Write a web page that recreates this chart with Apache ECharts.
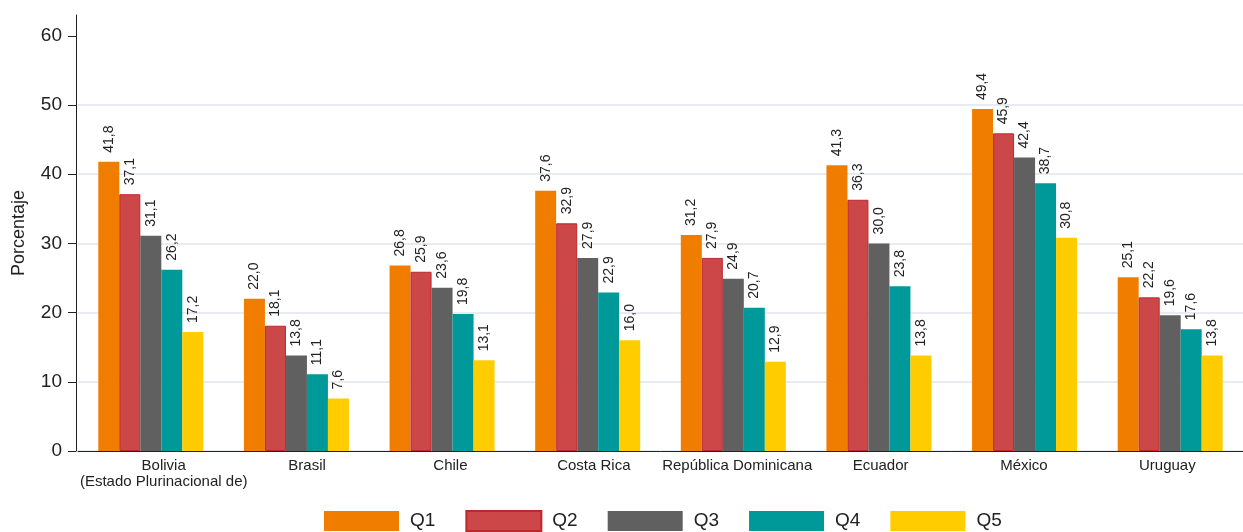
<!DOCTYPE html>
<html>
<head>
<meta charset="utf-8">
<script src="https://cdn.jsdelivr.net/npm/echarts@6/dist/echarts.min.js"></script>
<style>
html,body{margin:0;padding:0;background:#fff;}
#chart{width:1243px;height:532px;}
</style>
</head>
<body>
<div id="chart"></div>
<script>
const categories = ['Bolivia\n(Estado Plurinacional de)', 'Brasil', 'Chile', 'Costa Rica', 'República Dominicana', 'Ecuador', 'México', 'Uruguay'];
const seriesNames = ['Q1', 'Q2', 'Q3', 'Q4', 'Q5'];
const q1 = [41.8, 22.0, 26.8, 37.6, 31.2, 41.3, 49.4, 25.1];
const q2 = [37.1, 18.1, 25.9, 32.9, 27.9, 36.3, 45.9, 22.2];
const q3 = [31.1, 13.8, 23.6, 27.9, 24.9, 30.0, 42.4, 19.6];
const q4 = [26.2, 11.1, 19.8, 22.9, 20.7, 23.8, 38.7, 17.6];
const q5 = [17.2, 7.6, 13.1, 16.0, 12.9, 13.8, 30.8, 13.8];
const yTicks = [0, 10, 20, 30, 40, 50, 60];

const values = [q1, q2, q3, q4, q5];
const colors = ['#F07D00', '#CC4748', '#606060', '#009999', '#FFCC00'];
const borders = [null, '#C0272D', null, null, null];
const FONT = 'Arial, "Liberation Sans", sans-serif';

const chart = echarts.init(document.getElementById('chart'), null, {renderer: 'canvas'});
const series = values.map((v, i) => ({
  name: seriesNames[i],
  type: 'bar',
  data: v,
  barWidth: 21,
  barGap: '0%',
  itemStyle: borders[i] ? {color: colors[i], borderColor: borders[i], borderWidth: 1} : {color: colors[i]},
  label: {
    show: true,
    position: 'top',
    rotate: 90,
    align: 'left',
    verticalAlign: 'middle',
    distance: 9,
    fontSize: 14,
    fontFamily: FONT,
    color: '#222',
    formatter: p => p.value.toFixed(1).replace('.', ',')
  }
}));

chart.setOption({
  backgroundColor: '#fff',
  animation: false,
  textStyle: {fontFamily: FONT},
  legend: {
    data: seriesNames,
    icon: 'rect',
    left: 324,
    top: 510,
    padding: 0,
    itemWidth: 75,
    itemHeight: 20,
    itemGap: 30,
    textStyle: {fontSize: 19, lineHeight: 20, color: '#222', fontFamily: FONT, padding: [0, 0, 0, 6]}
  },
  grid: [
    {left: 78, width: 1173, top: 15, bottom: 81, containLabel: false},
    {left: 92, width: 1147, top: 15, bottom: 81, containLabel: false}
  ],
  xAxis: [
    {
      type: 'category', gridIndex: 0, data: categories,
      axisLine: {lineStyle: {color: '#222', width: 1}},
      axisTick: {show: false},
      axisLabel: {show: false}
    },
    {
      type: 'category', gridIndex: 1, data: categories,
      axisLine: {show: false},
      axisTick: {show: false},
      axisLabel: {show: true, fontSize: 15, margin: 7, lineHeight: 16, color: '#222', fontFamily: FONT, interval: 0}
    }
  ],
  yAxis: [
    {
      type: 'value', gridIndex: 0, min: 0, max: 63, interval: 10, offset: 2,
      name: 'Porcentaje', nameLocation: 'middle', nameGap: 48,
      nameTextStyle: {fontSize: 18, color: '#222', fontFamily: FONT},
      axisLine: {show: true, lineStyle: {color: '#222', width: 1}},
      axisTick: {show: true, length: 8, lineStyle: {color: '#222'}, customValues: yTicks},
      axisLabel: {fontSize: 19, color: '#222', margin: 14, customValues: yTicks, fontFamily: FONT},
      splitLine: {show: true, lineStyle: {color: ['#E6ECF1', '#E6ECF1', '#E6ECF1', '#E6ECF1', '#E6ECF1', '#E6ECF1', 'rgba(0,0,0,0)', 'rgba(0,0,0,0)'], width: 2}}
    },
    {type: 'value', gridIndex: 1, show: false, min: 0, max: 63}
  ],
  series: series
});
</script>
</body>
</html>
